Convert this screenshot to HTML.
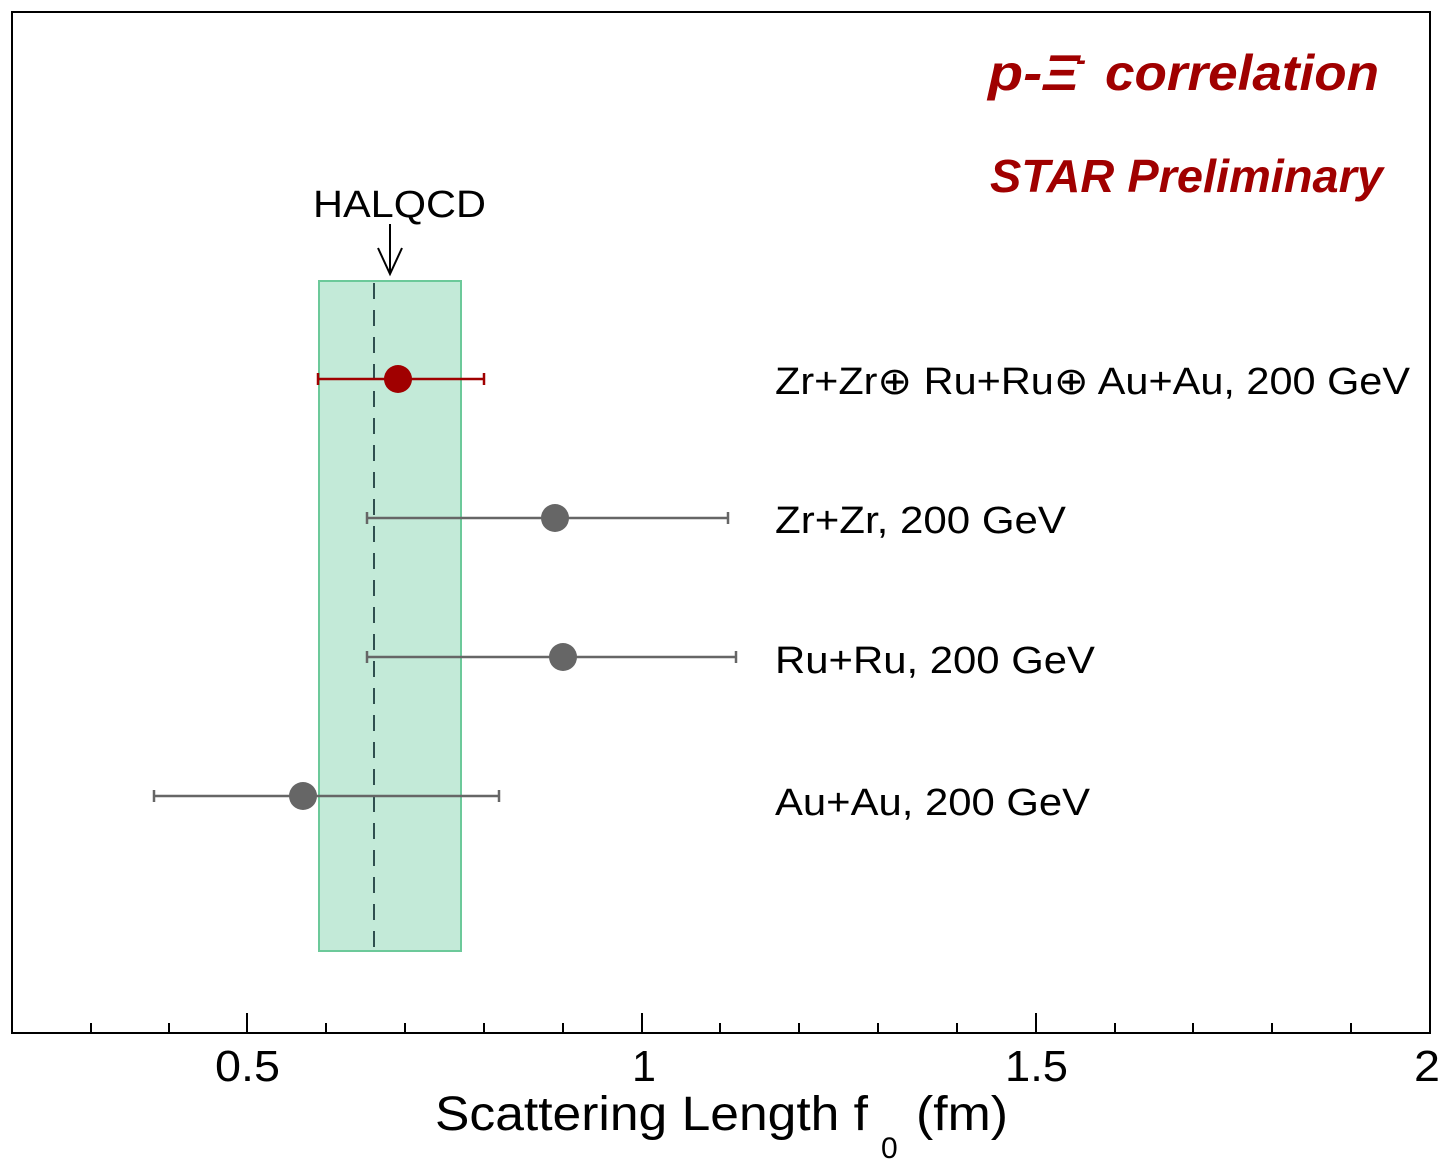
<!DOCTYPE html>
<html><head><meta charset="utf-8"><style>html,body{margin:0;padding:0;background:#fff}svg{display:block}</style></head>
<body>
<svg width="1449" height="1161" viewBox="0 0 1449 1161" xmlns="http://www.w3.org/2000/svg" font-family="Liberation Sans, sans-serif">
<rect x="0" y="0" width="1449" height="1161" fill="#fff"/>
<rect x="319" y="281" width="142" height="670" fill="#c3ead8" stroke="#6cc99a" stroke-width="2"/>
<line x1="374" y1="283" x2="374" y2="951" stroke="#2f4f4f" stroke-width="2" stroke-dasharray="16,11"/>
<rect x="12" y="12" width="1418" height="1021" fill="none" stroke="#000" stroke-width="2"/>
<g stroke="#000" stroke-width="2">
<line x1="91" y1="1033" x2="91" y2="1023"/><line x1="169" y1="1033" x2="169" y2="1023"/>
<line x1="247" y1="1033" x2="247" y2="1013"/>
<line x1="326" y1="1033" x2="326" y2="1023"/><line x1="405" y1="1033" x2="405" y2="1023"/><line x1="484" y1="1033" x2="484" y2="1023"/><line x1="563" y1="1033" x2="563" y2="1023"/>
<line x1="642" y1="1033" x2="642" y2="1013"/>
<line x1="720" y1="1033" x2="720" y2="1023"/><line x1="799" y1="1033" x2="799" y2="1023"/><line x1="878" y1="1033" x2="878" y2="1023"/><line x1="957" y1="1033" x2="957" y2="1023"/>
<line x1="1036" y1="1033" x2="1036" y2="1013"/>
<line x1="1115" y1="1033" x2="1115" y2="1023"/><line x1="1193" y1="1033" x2="1193" y2="1023"/><line x1="1272" y1="1033" x2="1272" y2="1023"/><line x1="1351" y1="1033" x2="1351" y2="1023"/>
</g>
<g font-size="44" fill="#000">
<text x="215" y="1081" textLength="65" lengthAdjust="spacingAndGlyphs">0.5</text>
<text x="632" y="1081" textLength="24" lengthAdjust="spacingAndGlyphs">1</text>
<text x="1005" y="1081" textLength="63" lengthAdjust="spacingAndGlyphs">1.5</text>
<text x="1414" y="1081" textLength="26" lengthAdjust="spacingAndGlyphs">2</text>
</g>
<text x="435" y="1130" font-size="48" textLength="433" lengthAdjust="spacingAndGlyphs">Scattering Length f</text>
<text x="881" y="1158" font-size="30">0</text>
<text x="916" y="1130" font-size="48" textLength="92" lengthAdjust="spacingAndGlyphs">(fm)</text>
<text x="313" y="217" font-size="38" textLength="173" lengthAdjust="spacingAndGlyphs">HALQCD</text>
<g stroke="#000" stroke-width="2" fill="none"><line x1="390" y1="224" x2="390" y2="274"/><polyline points="378,248 390,274 402,248"/></g>
<g fill="#a00000" font-weight="bold" font-style="italic">
<text x="988" y="90" font-size="50" textLength="92" lengthAdjust="spacingAndGlyphs">p-Ξ</text>
<text x="1076" y="70" font-size="30">-</text>
<text x="1105" y="90" font-size="50" textLength="274" lengthAdjust="spacingAndGlyphs">correlation</text>
<text x="990" y="192" font-size="46" textLength="393" lengthAdjust="spacingAndGlyphs">STAR Preliminary</text>
</g>
<g stroke="#a00000" stroke-width="2.5"><line x1="318" y1="379" x2="484" y2="379"/><line x1="318" y1="373" x2="318" y2="385"/><line x1="484" y1="373" x2="484" y2="385"/></g>
<circle cx="398" cy="379" r="14" fill="#a00000"/>
<g stroke="#666" stroke-width="2.5">
<line x1="367" y1="518" x2="728" y2="518"/><line x1="367" y1="512" x2="367" y2="524"/><line x1="728" y1="512" x2="728" y2="524"/>
<line x1="367" y1="657" x2="736" y2="657"/><line x1="367" y1="651" x2="367" y2="663"/><line x1="736" y1="651" x2="736" y2="663"/>
<line x1="154" y1="796" x2="499" y2="796"/><line x1="154" y1="790" x2="154" y2="802"/><line x1="499" y1="790" x2="499" y2="802"/>
</g>
<g fill="#666"><circle cx="555" cy="518" r="14"/><circle cx="563" cy="657" r="14"/><circle cx="303" cy="796" r="14"/></g>
<g font-size="38" fill="#000">
<text x="775" y="394" textLength="635" lengthAdjust="spacingAndGlyphs">Zr+Zr⊕ Ru+Ru⊕ Au+Au, 200 GeV</text>
<text x="775" y="533" textLength="291" lengthAdjust="spacingAndGlyphs">Zr+Zr, 200 GeV</text>
<text x="775" y="673" textLength="320" lengthAdjust="spacingAndGlyphs">Ru+Ru, 200 GeV</text>
<text x="775" y="815" textLength="315" lengthAdjust="spacingAndGlyphs">Au+Au, 200 GeV</text>
</g>
</svg>
</body></html>
